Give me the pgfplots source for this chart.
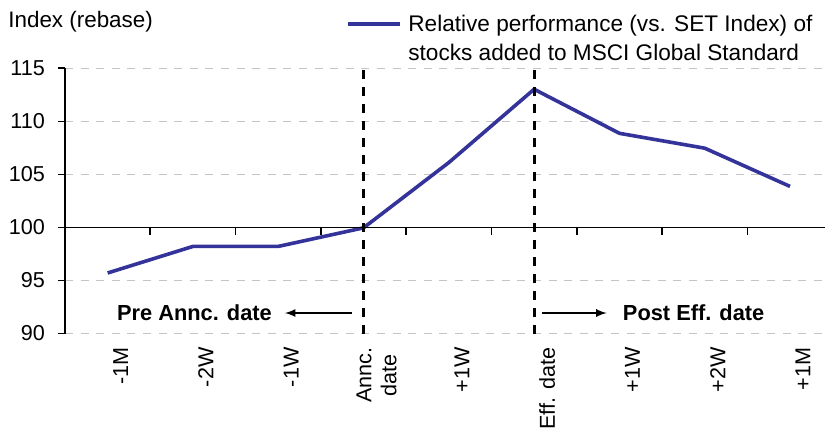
\documentclass[border=0pt]{standalone}
\usepackage{pgfplots}
\pgfplotsset{compat=1.18}
\usepackage{fontspec}
\setmainfont{Liberation Sans}
\definecolor{series}{HTML}{333399}
\definecolor{gridgray}{HTML}{C4C4C4}
\begin{document}
\begin{tikzpicture}[font=\fontsize{10.8}{12.5}\selectfont]
\begin{axis}[
  at={(0,0)}, anchor=south west,
  scale only axis, width=380pt, height=132.75pt,
  xmin=-0.5, xmax=8.41, ymin=90, ymax=115,
  axis x line*=bottom, axis y line*=left,
  x axis line style={draw=none},
  y axis line style={black, line width=0.6pt},
  xtick={0,...,8},
  xticklabels={-1M,-2W,-1W,{Annc.\\date},+1W,Eff. date,+1W,+2W,+1M},
  xtick style={draw=none},
  x tick label style={rotate=90, anchor=east, align=center, yshift=-6.5pt},
  ytick={90,95,...,115},
  ytick style={black, line width=0.6pt},
  tick align=outside, major tick length=3.5pt,
  y tick label style={xshift=-3pt},
  /pgf/number format/assume math mode=true,
  ymajorgrids, grid style={gridgray, line width=0.5pt, dash pattern=on 4pt off 3.8pt},
  clip=false,
]
\addplot[series, line width=1.8pt] coordinates {
(0,95.7) (1,98.2) (2,98.2) (3,99.95) (4,106.1) (5,113.0) (6,108.85) (7,107.45) (8,103.85)
};
\addplot[black, line width=1.4pt, dash pattern=on 4.5pt off 4pt] coordinates {(3,90) (3,115)};
\addplot[black, line width=1.4pt, dash pattern=on 4.5pt off 4pt] coordinates {(5,90) (5,115)};
\draw[black, line width=0.6pt] (axis cs:-0.5,100) -- (axis cs:8.41,100);
\draw[black, line width=0.8pt]
  (axis cs:0.5,100) -- (axis cs:0.5,99.3)
  (axis cs:1.5,100) -- (axis cs:1.5,99.3)
  (axis cs:2.5,100) -- (axis cs:2.5,99.3)
  (axis cs:3.5,100) -- (axis cs:3.5,99.3)
  (axis cs:4.5,100) -- (axis cs:4.5,99.3)
  (axis cs:5.5,100) -- (axis cs:5.5,99.3)
  (axis cs:6.5,100) -- (axis cs:6.5,99.3)
  (axis cs:7.5,100) -- (axis cs:7.5,99.3);
\draw[-latex, black, line width=0.8pt] (axis cs:2.865,91.93) -- (axis cs:2.079,91.93);
\draw[-latex, black, line width=0.8pt] (axis cs:5.09,91.93) -- (axis cs:5.85,91.93);
\node[font=\fontsize{10.9}{12.5}\selectfont\bfseries] at (axis cs:1.018,91.93) {Pre Annc. date};
\node[font=\fontsize{10.9}{12.5}\selectfont\bfseries] at (axis cs:6.87,91.93) {Post Eff. date};
\end{axis}
% legend (sample line and text)
\draw[series, line width=1.8pt] (141.5pt,154.75pt) -- (167.5pt,154.75pt);
\node[anchor=base west, inner sep=0pt, font=\fontsize{11.3}{13}\selectfont] at (171.5pt,150.85pt) {Relative performance (vs. SET Index) of};
\node[anchor=base west, inner sep=0pt, font=\fontsize{11.3}{13}\selectfont] at (171.5pt,136.35pt) {stocks added to MSCI Global Standard};
\node[anchor=base west, inner sep=0pt, font=\fontsize{11.2}{13}\selectfont] at (-28.5pt,152.85pt) {Index (rebase)};
\pgfresetboundingbox
\useasboundingbox (-32.5pt,-50.25pt) rectangle (380pt,166.75pt);
\end{tikzpicture}
\end{document}
